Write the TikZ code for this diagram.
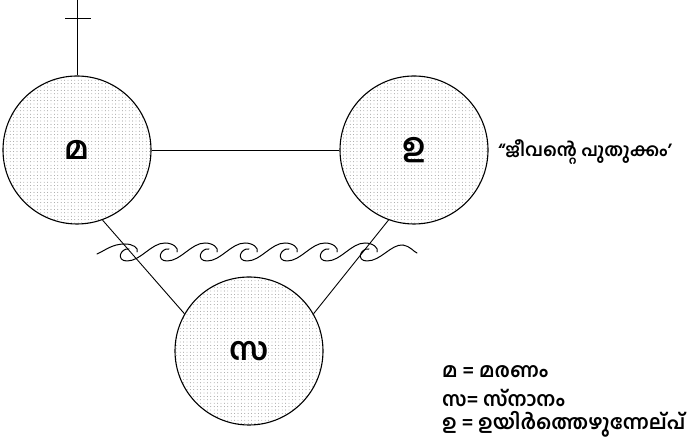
\documentclass[tikz,border=0pt]{standalone}
\usepackage{fontspec}
\newfontfamily\malfont[Script=Malayalam]{Hind Kochi}
\usetikzlibrary{patterns}

\pgfdeclarepatternformonly{puntos}{\pgfqpoint{-1bp}{-1bp}}{\pgfqpoint{1bp}{1bp}}{\pgfqpoint{3.4bp}{3.4bp}}
{
	\pgfpathcircle{\pgfqpoint{0bp}{0bp}}{0.42bp}
	\pgfusepath{fill}
}

\begin{document}
\begin{tikzpicture}[x=1bp,y=1bp,
		circulo/.style={circle,draw,line width=1.1bp,pattern=puntos,pattern color=black!55,
			minimum size=148bp,inner sep=0pt,font=\malfont\bfseries\fontsize{32}{38}\selectfont},
		linea/.style={line width=0.9bp},
		ola/.style={line width=1bp,line cap=round},
		leyenda/.style={anchor=west,inner sep=0pt,font=\malfont\bfseries\fontsize{20}{24}\selectfont}]
		\useasboundingbox (0,0) rectangle (687,444);
		% los tres circulos
		\node[circulo] (M) at (77,294) {മ};
		\node[circulo] (U) at (414,294) {ഉ};
		\node[circulo] (S) at (249,93) {സ};
		\coordinate (Arriba) at (77,444);
		\coordinate (CruzI) at (65,426);
		\coordinate (CruzD) at (91,426);
		\draw[linea] (M.north) -- (Arriba);
		\draw[linea] (CruzI) -- (CruzD);
		\draw[linea] (M.east) -- (U.west);
		\draw[linea] (M.-70) -- (S.150);
		\draw[linea] (U.-110) -- (S.30);
		% las olas
		\begin{scope}[yshift=192bp]
			\draw[ola] (97,-2) .. controls (106,2) and (112,8) .. (125,8)
			.. controls (133,8) and (139,4) .. (137,0);
			\foreach \Xc in {123,163,...,323}
			{
				\draw[ola] 
				(\Xc+6,3) .. controls (\Xc-3,4) and (\Xc-7,-9) .. (\Xc+4,-9)
				.. controls (\Xc+18,-9) and (\Xc+28,9) .. (\Xc+42,9)
				.. controls (\Xc+50,9) and (\Xc+56,4) .. (\Xc+54,0);
			}
			\draw[ola] (369,3) .. controls (360,4) and (356,-9) .. (367,-9)
			.. controls (381,-9) and (391,8) .. (403,7)
			.. controls (410,6) and (414,0) .. (417,-1);
		\end{scope}
		\node[leyenda,font=\malfont\bfseries\fontsize{18}{22}\selectfont] (Texto) at (498,292) {“ജീവന്റെ പുതുക്കം’};
		\foreach \Yc/\Texto in 
		{72/{മ = മരണം},46/{സ= സ്നാനം},20/{ഉ = ഉയിർത്തെഴുന്നേല്പ്}}
		{
			\node[leyenda] (L\Yc) at (442,\Yc) {\Texto};
		}
\end{tikzpicture}
\end{document}
